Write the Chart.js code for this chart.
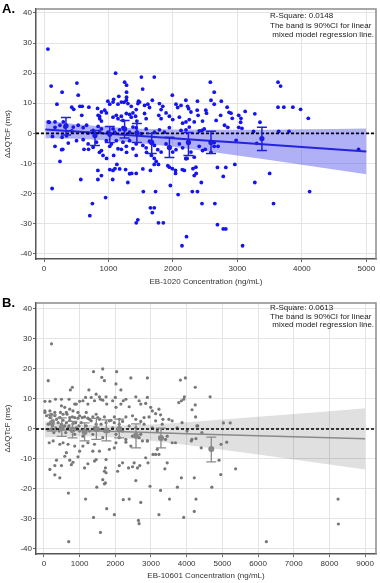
<!DOCTYPE html>
<html>
<head>
<meta charset="utf-8">
<script src="https://cdn.jsdelivr.net/npm/chart.js@4.4.1/dist/chart.umd.min.js"></script>
<style>
  html, body { margin: 0; padding: 0; background: #fff; overflow: hidden; }
  .panel { position: absolute; left: 0; width: 380px; height: 290px; }
  #wrapA { top: 0; }
  #wrapB { top: 294px; }
</style>
</head>
<body>
<div id="wrapA" class="panel"><canvas id="chartA" width="380" height="290"></canvas></div>
<div id="wrapB" class="panel"><canvas id="chartB" width="380" height="290"></canvas></div>
<script>
// ---- shared ticks ----
const yTicks = [-40, -30, -20, -10, 0, 10, 20, 30, 40];
const xTicksA = [0, 1000, 2000, 3000, 4000, 5000];
const xTicksB = [0, 1000, 2000, 3000, 4000, 5000, 6000, 7000, 8000, 9000];

// ---- panel A: EB-1020 ----
const concA = [
  60, 110, 510, 1110, 1250, 1280, 1510, 1530, 1710, 280,
  530, 200, 80, 990, 1080, 1160, 1280, 1280, 1240, 1465,
  1680, 1990, 2200, 430, 460, 585, 695, 660, 830, 860,
  556, 592, 890, 941, 1019, 1147, 1070, 1199, 1276, 1301,
  1353, 1430, 1456, 1482, 1559, 1610, 1636, 1790, 1816, 1842,
  2047, 2073, 2125, 2227, 2243, 2279, 839, 864, 890, 967,
  1070, 1121, 1147, 1199, 1224, 1276, 1327, 1353, 1379, 1420,
  1440, 1559, 1584, 1780, 1816, 1893, 1944, 1996, 2099, 2150,
  2202, 2253, 2459, 67, 170, 247, 298, 324, 453, 530,
  607, 684, 761, 839, 864, 890, 993, 1070, 1096, 1173,
  1224, 1327, 1379, 1430, 1507, 1584, 1713, 1790, 1867, 1944,
  2125, 2202, 2253, 2407, 2485, 170, 273, 247, 376, 504,
  607, 684, 761, 813, 890, 967, 1019, 1044, 1121, 1147,
  1224, 1276, 1327, 1379, 1430, 1533, 1584, 1636, 1713, 1764,
  1816, 1893, 1944, 1996, 2047, 2099, 2150, 2202, 2279, 2330,
  2356, 2407, 2459, 890, 1070, 1173, 1327, 1533, 1944, 2176,
  2330, 125, 570, 750, 710, 955, 1065, 1300, 1540, 1455,
  1430, 1730, 1650, 1710, 1680, 1775, 1850, 1960, 2080, 2140,
  2210, 620, 860, 915, 970, 835, 835, 1020, 1100, 1080,
  1130, 1200, 1280, 1265, 1360, 1430, 1430, 1590, 1665, 1710,
  1740, 1710, 1650, 1775, 1920, 1990, 2040, 2040, 2145, 2200,
  2220, 290, 690, 2580, 2640, 2380, 2590, 2750, 2640, 2840,
  2870, 3120, 3020, 3055, 3020, 3070, 3270, 3350, 3630, 3670,
  3630, 3720, 3860, 3980, 4100, 3640, 3800, 2510, 2520, 2900,
  2740, 2920, 3050, 2800, 3250, 2330, 2376, 2390, 2450, 2670,
  2850, 2640, 2700, 2640, 2500, 2590, 2980, 3300, 4880, 2690,
  2820, 2960, 2780, 3500, 2310, 2360, 2440, 2300, 2380, 2450,
  3270, 4120, 2650, 3560, 2690, 2780, 2820, 3080, 170, 280,
  350, 430, 130
];
const dqtA = [
  28, 15.7, 16.7, 20, 17, 16, 18.7, 14.7, 18.7, 13.7,
  12.7, 9.7, 3.7, 10.7, 11.3, 12.3, 13.7, 12, 10.3, 10.7,
  11, 12.7, 11, 8.7, 8, 6, 8.7, 2.7, 8.3, 5.7,
  9, 9, 7.1, 7.7, 9.7, 9.7, 10.4, 10.4, 11, 9.9,
  9, 7.9, 9.9, 10.4, 9.3, 9.7, 8.6, 9.9, 7.9, 9,
  9.7, 8.6, 9.3, 9, 8.2, 7.1, 6, 4.9, 4.1, 6.8,
  5.4, 6, 4.9, 5.7, 4.3, 6.6, 6.3, 5.4, 6.8, 5.7,
  4.1, 6.6, 4.9, 6, 4.9, 6.8, 5.7, 4.6, 5.4, 3.4,
  3.8, 4.6, 4.1, 3.8, 3.8, 2.7, 3.8, 2.1, 2.1, 2.7,
  1.9, 0.1, 1, 2.3, 0.4, 1.5, 0.4, 1.5, 0.4, 1.2,
  1.9, 0.4, 2.1, 1.9, -0.1, 1.5, 0.4, 1.2, 0.4, 1.9,
  1, 1.2, 2.1, 0.8, 1.5, -4.3, -5.4, -9.3, -3.2, -2.4,
  -2.1, -3.5, -4.6, -2.9, -5.7, -2.4, -4.3, -3.5, -2.4, -5.1,
  -2.9, -4.3, -2.4, -5.1, -3.5, -4, -4.8, -2.6, -4, -5.4,
  -6.2, -3.5, -4.6, -6.2, -5.4, -3.5, -4.8, -8.4, -6.2, -7.9,
  -11.2, -4.3, -5.7, -14, -12.3, -11.8, -13.4, -11.8, -11.2, -12.3,
  -14, -18.3, -15.3, -23.3, -27.3, -21.3, -15.3, -16.3, -19.3, -28.7,
  -29.7, -19.3, -24.7, -24.7, -26.3, -29.7, -29.7, -17.3, -20.3, -37.3,
  -34.3, -5.3, -6.3, -7.3, -8.3, -12.3, -15.3, -12, -11.7, -7.3,
  -10.3, -5.3, -6.3, -12, -13.3, -13.3, -7.3, -6.3, -7.3, -8.3,
  -9.3, -10.3, -12.3, -10.3, -10.7, -11.7, -12.3, -13.3, -12, -8.3,
  -8.3, -5.3, -5.3, 17, 13.7, 10.7, 11, 10.7, 9.7, 8.7,
  7, 7.3, 6, 5, 2, 1.7, 6.5, 3.7, 17, 15.7,
  8.7, 8.7, 8.7, 8, 5, 0.7, 0.7, 7.7, 6.7, 6.7,
  6, 5, 3.7, 2.7, 0.7, 3.8, 7.7, 6, 1, 4.3,
  2, -3, -4.3, -4.3, -5.3, -6.3, -2.3, -3.3, -5.3, -11.3,
  -11.3, -10.3, -14.3, -13.3, -11.7, -13.3, -16.3, -19.3, -19.3, -23.3,
  -16.3, -19.3, -23.3, -23.3, -30.3, -31.7, -31.7, -37.3, 2, -1.3,
  -0.8, 0.8, -1
];
const bandXA = [20, 500, 1000, 1500, 2000, 2500, 3000, 3500, 4000, 4500, 5000];
const fitA = [1.33, 0.62, -0.11, -0.85, -1.58, -2.32, -3.06, -3.8, -4.53, -5.27, -6.0];
const bandHiA = [4.28, 3.05, 2.16, 1.58, 1.3, 1.2, 1.19, 1.25, 1.35, 1.46, 1.6];
const bandLoA = [-1.62, -1.81, -2.38, -3.28, -4.46, -5.84, -7.31, -8.85, -10.41, -12.0, -13.6];
const binConcA = [340, 790, 1020, 1250, 1440, 1670, 1945, 2240, 2590, 3380];
const binMeanA = [2.5, -0.7, -0.3, 1.5, 0.2, -3.0, -4.7, -3.0, -3.0, -1.7];
const binLoA = [-0.5, -4, -3, -1.5, -3, -6.7, -8, -7.3, -6.7, -5.7];
const binHiA = [5.3, 1, 2.3, 4.3, 3.3, 0, -1.3, 0.3, 0.7, 2];

// ---- panel B: EB-10601 ----
const concB = [
  213, 120, 797, 741, 1260, 1389, 1648, 1695, 1620, 2037,
  2019, 2158, 2436, 2899, 3825, 3964, 3936, 4240, 4657, 4240,
  4150, 4250, 4310, 5030, 5220, 28, 167, 324, 491, 704,
  1000, 862, 491, 584, 723, 815, 908, 954, 1093, 1167,
  1232, 1325, 1417, 1463, 1556, 1584, 1649, 1741, 1760, 1926,
  2000, 2019, 2158, 2223, 2297, 2389, 2575, 2667, 2714, 2852,
  2899, 2991, 3038, 3130, 3223, 3269, 3334, 3501, 3593, 3778,
  3852, 3917, 28, 167, 167, 306, 445, 537, 630, 723,
  862, 1000, 1139, 1186, 1278, 1371, 1463, 1556, 1695, 1834,
  1973, 2112, 2204, 2297, 2482, 2575, 2714, 2806, 2945, 3130,
  74, 167, 213, 259, 306, 352, 398, 444, 491, 537,
  583, 630, 676, 722, 769, 815, 861, 907, 954, 1000,
  1046, 1093, 1185, 1278, 1324, 1370, 1463, 1556, 1648, 1741,
  1833, 1926, 2019, 2111, 2204, 2296, 2389, 2482, 2574, 2713,
  2806, 2898, 3037, 3176, 3315, 3454, 3593, 3732, 3871, 4010,
  4148, 4287, 4426, 28, 120, 185, 241, 278, 333, 426,
  463, 519, 611, 648, 704, 796, 889, 981, 1074, 1139,
  1231, 1417, 1509, 1602, 1694, 1880, 1972,
  695, 1584, 1389, 1973, 1760, 1167, 686, 1482, 1695, 306,
  445, 2223, 2389, 2714, 2649, 2667, 3223, 3269, 2973, 2575,
  3519, 3917, 3741, 3852, 3389, 3454, 3056, 3130, 3223, 2852,
  2917, 2686, 2528, 2621, 2482, 2371, 2204, 2112, 2065, 1723,
  1695, 1741, 1649, 1723, 1417, 1463, 1232, 1139, 1000, 954,
  815, 769, 723, 584, 630, 491, 352, 306, 167, 2899,
  3176, 3408, 3686, 1371, 1556, 1741, 1834, 1973, 2019, 2112,
  2297, 2436, 2760, 2667, 148, 259, 445, 537, 676, 862,
  1093, 1232, 1417, 4130, 4260, 4408, 4963, 5121, 4908, 5371,
  4213, 4954, 4704, 4260, 4213, 6232, 8242, 8251
];
const dqtB = [
  28.4, 16.1, 13.9, 13, 13, 19.1, 20, 16.1, 17.2, 19.1,
  15, 13, 17, 17, 16.3, 17, 10.7, 13.9, 10.7, 8,
  6.4, 4, 1, 2, 2, 9.2, 9.2, 9.9, 9.9, 9.9,
  9.2, 8.3, 7.7, 7.2, 6.6, 6, 8.3, 5.5, 9.4, 10.5,
  8.3, 10.5, 9.4, 11.6, 10.7, 9.9, 9.6, 10.7, 8.3, 9.4,
  10.5, 7.2, 8.3, 9.4, 9.9, 7.4, 10.7, 9.4, 8.3, 8.5,
  10.5, 7.2, 6, 5.1, 6.6, 4.7, 3.2, 3.2, 2.7, 8.8,
  9.4, 9.9, 6, 6, 4.7, 5.5, 3.8, 4.9, 5.5, 3.8,
  3.8, 4.4, 4, 5.5, 3.2, 4, 4.9, 3.2, 4, 2.7,
  4, 3.2, 2.5, 4, 4.4, 3.2, 2.5, 3.8, 4, 2.7,
  4.4, 3.8, 4.9, 2.7, 4.4, 3.2, 2.1, 3.8, 1.6, 2.9,
  1, 2.1, 0.4, 2.9, -0.7, 1.8, -1.8, 0.4, 3.6, -0.7,
  2.1, -2.4, 1, -0.7, 2.7, -1.8, 1.6, -0.1, -2.9, 2.1,
  -0.7, 0.4, -1.8, 1.6, -0.7, -3.5, 1, -2.4, 0.4, -1.8,
  1.6, -4, 0.4, -0.7, 1.6, -2.4, -4.6, 0.4, 2.1, -0.7,
  -3.5, 1, -1.2, 5.5, 1.6, -0.1, 1, -1.2, 0.4, -0.7,
  5.5, -0.1, -1.2, 4.9, 1, 4, 2.1, 1, 3.8, -0.7,
  3.6, 0.4, 3.8, 1.6, -0.7, 2.9, 2.1,
  -37.6, -34.5, -29.5, -28.6, -26.6, -23.4, -21.4, -19.4, -18.3, -15.3,
  -16.3, -23.6, -23.4, -24.5, -30.5, -31.6, -28.6, -20.5, -19.1, -17.2,
  -23.4, -29.5, -19.4, -16.3, -13.3, -11.3, -8.5, -8.5, -8.5, -9.6,
  -11.3, -12.2, -11.3, -13, -12.6, -13, -11.3, -12.2, -14.1, -13,
  -14.1, -14.6, -16.9, -18, -10.7, -10.2, -11.6, -13, -7.4, -9.3,
  -11.1, -11.9, -10.4, -9.1, -7.9, -12.2, -10.4, -12.2, -13.5, -4,
  -6.8, -3.5, -4.6, -7.4, -7.4, -10.2, -6.8, -6.3, -4.6, -2.9,
  -4.4, -5.7, -4, -2.9, -4.6, -4, -5.1, -4.6, -5.1, -5.7,
  -5.7, -4.6, -5.1, -4, -3.2, -6.3, -5.1, -4.4, -10.4, -13.3,
  -16.3, -15.2, -19.4, -23.4, -27.5, -37.6, -23.4, -31.7
];
const bandXB = [30, 1000, 2000, 3000, 4000, 5000, 6000, 7000, 8000, 9000];
const fitB = [-0.2, -0.53, -0.88, -1.22, -1.57, -1.91, -2.25, -2.6, -2.94, -3.29];
const bandHiB = [2.47, 1.39, 1.04, 1.48, 2.23, 3.11, 4.03, 4.98, 5.94, 6.91];
const bandLoB = [-2.87, -2.45, -2.8, -3.92, -5.37, -6.93, -8.53, -10.18, -11.82, -13.49];
const binConcB = [220, 500, 800, 1140, 1470, 1750, 2110, 2580, 3280, 4690];
const binMeanB = [2.0, 0.5, -0.3, -1.0, 0, -0.5, 0, -2.3, -3.0, -6.7];
const binLoB = [-0.7, -2.5, -3.0, -4.0, -3.5, -4.0, -3.0, -6.3, -6.3, -11];
const binHiB = [4.7, 3.7, 2.5, 2.0, 3.5, 3.0, 3.3, 1.7, 0.3, -2.7];

const FONT = "'Liberation Sans', Arial, sans-serif";
Chart.defaults.font.family = FONT;
Chart.defaults.font.size = 8;
Chart.defaults.color = "#333";

// error bars for the binned means, placed through the chart's scales
const errorBars = {
  id: "errorBars",
  afterDatasetsDraw(chart, args, opts) {
    const { ctx, scales: { x, y } } = chart;
    ctx.save();
    ctx.strokeStyle = opts.color;
    ctx.lineWidth = opts.width;
    opts.at.forEach((c, i) => {
      const px = x.getPixelForValue(c);
      const top = y.getPixelForValue(opts.hi[i]);
      const bot = y.getPixelForValue(opts.lo[i]);
      ctx.beginPath();
      ctx.moveTo(px, top);
      ctx.lineTo(px, bot);
      ctx.moveTo(px - opts.cap, top);
      ctx.lineTo(px + opts.cap, top);
      ctx.moveTo(px - opts.cap, bot);
      ctx.lineTo(px + opts.cap, bot);
      ctx.stroke();
    });
    ctx.restore();
  },
};

// frame, panel letter and the note in the top right corner
const panelDecor = {
  id: "panelDecor",
  afterDraw(chart, args, opts) {
    const { ctx, chartArea: a } = chart;
    ctx.save();
    ctx.strokeStyle = "#8c8c8c";
    ctx.lineWidth = 1.5;
    ctx.beginPath();
    ctx.moveTo(a.left, a.top);
    ctx.lineTo(a.right, a.top);
    ctx.lineTo(a.right, a.bottom);
    ctx.stroke();

    ctx.fillStyle = "#000";
    ctx.font = "bold 13px " + FONT;
    ctx.textBaseline = "alphabetic";
    ctx.fillText(opts.label, 2, 13);

    ctx.fillStyle = "#222";
    ctx.font = "8px " + FONT;
    ctx.textBaseline = "middle";
    opts.notes.forEach((t, i) => {
      ctx.fillText(t, a.left + 234, a.top + opts.noteTop + i * opts.noteGap);
    });
    ctx.restore();
  },
};

function buildPanel(cfg) {
  const pairs = (xs, ys) => xs.map((x, i) => ({ x, y: ys[i] }));
  const axisFont = { family: FONT, size: 8 };

  new Chart(cfg.id, {
    type: "scatter",
    data: {
      datasets: [
        {
          type: "line",
          data: pairs(cfg.binX, cfg.binMean),
          showLine: false,
          pointRadius: cfg.meanRadius,
          pointBackgroundColor: cfg.meanColor,
          pointBorderWidth: 0,
          order: 1,
        },
        {
          type: "line",
          data: [{ x: cfg.xMin, y: 0 }, { x: cfg.xMax, y: 0 }],
          borderColor: "#000",
          borderWidth: 1.6,
          borderDash: [3, 2],
          pointRadius: 0,
          order: 2,
        },
        {
          type: "line",
          data: pairs(cfg.bandX, cfg.fit),
          borderColor: cfg.lineColor,
          borderWidth: cfg.lineWidth,
          pointRadius: 0,
          order: 3,
        },
        {
          data: pairs(cfg.conc, cfg.dqt),
          pointRadius: cfg.pointRadius,
          pointBackgroundColor: cfg.pointColor,
          pointBorderWidth: 0,
          order: 4,
        },
        {
          type: "line",
          data: pairs(cfg.bandX, cfg.bandHi),
          fill: "+1",
          backgroundColor: cfg.bandColor,
          borderColor: "transparent",
          pointRadius: 0,
          order: 5,
        },
        {
          type: "line",
          data: pairs(cfg.bandX, cfg.bandLo),
          fill: false,
          borderColor: "transparent",
          pointRadius: 0,
          order: 6,
        },
      ],
    },
    options: {
      responsive: false,
      animation: false,
      events: [],
      layout: { padding: { top: 9, right: cfg.padRight, left: 0, bottom: 0 } },
      plugins: {
        legend: { display: false },
        tooltip: { enabled: false },
        errorBars: {
          at: cfg.binX, lo: cfg.binLo, hi: cfg.binHi,
          color: cfg.barColor, width: cfg.barWidth, cap: 5,
        },
        panelDecor: {
          label: cfg.label,
          notes: [
            "R-Square: " + cfg.rSquare,
            "The band is 90%CI for linear",
            " mixed model regression line.",
          ],
          noteTop: cfg.noteTop,
          noteGap: cfg.noteGap,
        },
      },
      scales: {
        x: {
          type: "linear",
          min: cfg.xMin,
          max: cfg.xMax,
          afterBuildTicks: (s) => { s.ticks = cfg.xTicks.map((v) => ({ value: v })); },
          afterFit: (s) => { s.height = cfg.xAxisH; },
          grid: { color: "#e4e4e4", tickColor: "#666", tickLength: 3 },
          border: { color: "#555", width: 1.5 },
          ticks: { font: axisFont, color: "#333", padding: 2, maxRotation: 0, autoSkip: false, callback: (v) => String(v) },
          title: { display: true, text: cfg.xTitle, font: axisFont, color: "#333", padding: { top: 0, bottom: 3 } },
        },
        y: {
          type: "linear",
          min: cfg.yMin,
          max: cfg.yMax,
          afterBuildTicks: (s) => { s.ticks = yTicks.map((v) => ({ value: v })); },
          afterFit: (s) => { s.width = 36; },
          grid: { color: "#e4e4e4", tickColor: "#666", tickLength: 3 },
          border: { color: "#555", width: 1.5 },
          ticks: { font: axisFont, color: "#333", padding: 1, callback: (v) => String(v) },
          title: { display: true, text: "ΔΔQTcF (ms)", font: axisFont, color: "#333", padding: { top: 3, bottom: 0 } },
        },
      },
    },
    plugins: [errorBars, panelDecor],
  });
}

buildPanel({
  id: "chartA", label: "A.", rSquare: "0.0148",
  xTitle: "EB-1020 Concentration (ng/mL)",
  conc: concA, dqt: dqtA,
  bandX: bandXA, fit: fitA, bandHi: bandHiA, bandLo: bandLoA,
  binX: binConcA, binMean: binMeanA, binLo: binLoA, binHi: binHiA,
  xMin: -125, xMax: 5150, xTicks: xTicksA, yMin: -41.7, yMax: 41.3,
  xAxisH: 31, padRight: 2, noteTop: 7, noteGap: 9.6,
  pointColor: "#1414f0", pointRadius: 1.9,
  lineColor: "#2424dc", lineWidth: 2,
  bandColor: "rgba(80, 80, 238, 0.45)",
  meanColor: "#1a1ae6", meanRadius: 2.6,
  barColor: "#1f1fe0", barWidth: 1.5,
});

buildPanel({
  id: "chartB", label: "B.", rSquare: "0.0613",
  xTitle: "EB-10601 Concentration (ng/mL)",
  conc: concB, dqt: dqtB,
  bandX: bandXB, fit: fitB, bandHi: bandHiB, bandLo: bandLoB,
  binX: binConcB, binMean: binMeanB, binLo: binLoB, binHi: binHiB,
  xMin: -222, xMax: 9305, xTicks: xTicksB, yMin: -41.7, yMax: 42,
  xAxisH: 30, padRight: 1, noteTop: 4.5, noteGap: 8.8,
  pointColor: "#777", pointRadius: 1.6,
  lineColor: "#8a8a8a", lineWidth: 1.5,
  bandColor: "rgba(0, 0, 0, 0.12)",
  meanColor: "#858585", meanRadius: 3,
  barColor: "#8a8a8a", barWidth: 1.3,
});
</script>
</body>
</html>
